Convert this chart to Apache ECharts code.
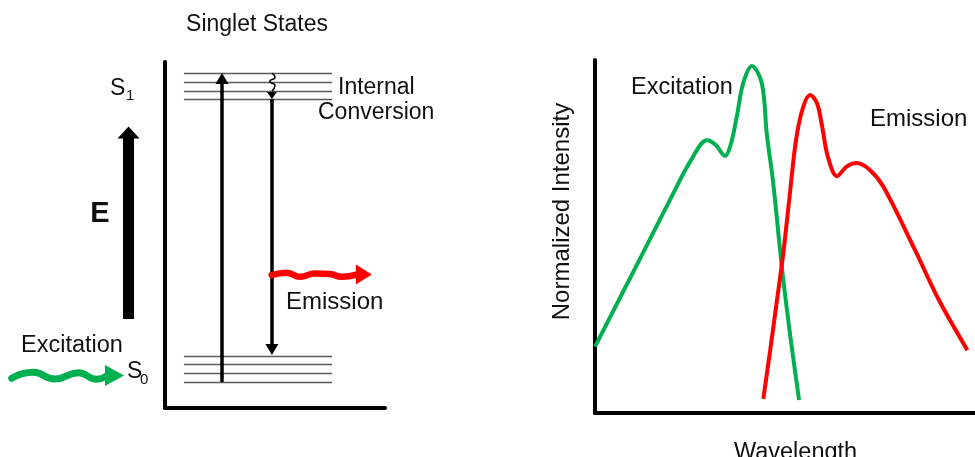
<!DOCTYPE html>
<html>
<head>
<meta charset="utf-8">
<script src="https://cdn.jsdelivr.net/npm/echarts@6/dist/echarts.min.js"></script>
<style>
  html, body { margin: 0; padding: 0; background: #ffffff; }
  #chart { width: 975px; height: 457px; }
</style>
</head>
<body>
<div id="chart"></div>
<script>
// ---- Jablonski diagram (relative energy 0-100, horizontal position 0-100) ----
const s1Levels = [96.8, 94.2, 91.6, 89.3];
const s0Levels = [15.0, 12.7, 10.1, 7.5];
const levelSpan = [8.6, 75.9];

// vertical transitions: [x, fromEnergy, toEnergy] and their heads
const absorption = [25.9, 7.5, 95.0];
const absorptionHead = [[25.9, 95.2]];
const emission = [48.6, 89.3, 17.5];
const emissionHead = [[48.6, 16.9]];

// internal conversion squiggle and its head
const internalConversion = [[48.6, 96.8], [50.0, 95.6], [47.6, 94.4], [50.0, 93.2], [48.6, 91.6]];
const internalHead = [[48.6, 90.3]];

// emitted photon (wavy arrow) leaving the emission line
const emittedPhoton = [[48.5, 38.4], [55.3, 39.1], [61.4, 37.9], [68.2, 38.9], [75.0, 38.7], [80.3, 37.9], [87.5, 38.6]];
const emittedHead = [[90.4, 38.6]];

// side panel: incoming photon and the energy axis arrow
const incomingPhoton = [[7.1, 8.6], [20.2, 10.3], [33.3, 8.4], [47.5, 10.2], [58.6, 8.3], [64.5, 9.2]];
const incomingHead = [[69.4, 9.4]];
const energyShaft = [[77.9, 25.7], [77.9, 78.6]];
const energyHead = [[77.9, 79.6]];

// ---- spectra (wavelength 0-100, normalized intensity 0-100) ----
const excitationSpectrum = [
  [0, 18.8], [12.7, 45.5], [20.6, 62.2], [25.2, 71.5], [29.5, 77.3],
  [31.8, 75.9], [34.2, 72.8], [35.6, 75.6], [37.3, 83.9], [39.0, 93.4], [41.3, 98.3],
  [43.9, 93.4], [45.2, 79.2], [46.9, 65.1], [48.7, 46.2], [49.4, 39.1], [51.3, 22.5], [53.7, 3.7]
];
const emissionSpectrum = [
  [44.3, 4.0], [46.1, 17.8], [47.9, 32.0], [49.5, 44.8], [51.1, 60.3], [52.9, 77.3],
  [54.7, 86.4], [56.6, 90.1], [58.4, 87.8], [59.7, 81.6], [61.3, 72.5], [63.7, 67.1],
  [66.2, 69.8], [68.9, 70.8], [72.4, 68.8], [75.9, 64.1], [84.2, 46.2], [90.5, 32.0], [98.0, 17.8]
];

const FONT = '"Liberation Sans", Arial, Helvetica, sans-serif';
const INK = '#111111';
const GREEN = '#00b050';
const RED = '#ff0000';

const seg = (pts) => ({ coords: pts });

const hiddenAxis = (gridIndex) => ({
  type: 'value', gridIndex, min: 0, max: 100, show: false
});
const frameAxis = (gridIndex, extra) => Object.assign({
  type: 'value', gridIndex, min: 0, max: 100,
  axisLine: { show: true, lineStyle: { color: '#000', width: 4 } },
  axisTick: { show: false }, axisLabel: { show: false }, splitLine: { show: false }
}, extra || {});

// triangular arrow head drawn as a scatter symbol; rotate: 0 up, 180 down, -90 right
const head = (name, data, gridIdx, color, size, rotate) => ({
  name, type: 'scatter', xAxisIndex: gridIdx, yAxisIndex: gridIdx, silent: true,
  symbol: 'triangle', symbolSize: size, symbolRotate: rotate,
  itemStyle: { color, opacity: 1 }, data, z: 5
});

const txt = (x, y, text, size, opts) => ({
  type: 'text', x, y, silent: true,
  style: Object.assign({
    text, fontSize: size, fontFamily: FONT, fill: INK,
    align: 'left', verticalAlign: 'middle'
  }, opts || {})
});

const chart = echarts.init(document.getElementById('chart'), null, { renderer: 'canvas' });

chart.setOption({
  animation: false,
  backgroundColor: '#ffffff',
  grid: [
    { left: 165, top: 62, width: 220, height: 346, outerBoundsMode: 'none' },   // Jablonski frame
    { left: 0, top: 62, width: 165, height: 346, outerBoundsMode: 'none' },     // energy axis side
    { left: 595, top: 60, width: 380, height: 353, outerBoundsMode: 'none' }    // spectra
  ],
  xAxis: [
    frameAxis(0),
    hiddenAxis(1),
    frameAxis(2, {
      name: 'Wavelength', nameLocation: 'middle', nameGap: 28,
      nameTextStyle: { fontSize: 23.5, fontFamily: FONT, color: INK, padding: [0, 0, 0, 21] }
    })
  ],
  yAxis: [
    frameAxis(0),
    hiddenAxis(1),
    frameAxis(2, {
      name: 'Normalized Intensity', nameLocation: 'middle', nameGap: 21, nameRotate: 90,
      nameTextStyle: { fontSize: 24, fontFamily: FONT, color: INK, padding: [0, 0, 0, 50] }
    })
  ],
  series: [
    {
      name: 'Vibrational levels', type: 'lines', coordinateSystem: 'cartesian2d',
      xAxisIndex: 0, yAxisIndex: 0, silent: true,
      lineStyle: { color: '#5a5a5a', width: 1.3, opacity: 1 },
      data: s1Levels.concat(s0Levels).map(e => seg([[levelSpan[0], e], [levelSpan[1], e]]))
    },
    {
      name: 'Transitions', type: 'lines', coordinateSystem: 'cartesian2d',
      xAxisIndex: 0, yAxisIndex: 0, silent: true,
      lineStyle: { color: '#000', width: 3.5, opacity: 1 },
      data: [
        seg([[absorption[0], absorption[1]], [absorption[0], absorption[2]]]),
        seg([[emission[0], emission[1]], [emission[0], emission[2]]])
      ]
    },
    head('Absorption head', absorptionHead, 0, '#000', [13, 11], 0),
    head('Emission head', emissionHead, 0, '#000', [13, 11], 180),
    {
      name: 'Internal conversion', type: 'line', xAxisIndex: 0, yAxisIndex: 0,
      smooth: 0.6, showSymbol: false, silent: true,
      lineStyle: { color: '#000', width: 1.5 },
      data: internalConversion
    },
    head('Internal conversion head', internalHead, 0, '#000', [10, 7], 180),
    {
      name: 'Emitted photon', type: 'line', xAxisIndex: 0, yAxisIndex: 0,
      smooth: 0.5, showSymbol: false, silent: true,
      lineStyle: { color: RED, width: 6.5, cap: 'round' },
      data: emittedPhoton
    },
    head('Emitted photon head', emittedHead, 0, RED, [20, 16], -90),
    {
      name: 'Incoming photon', type: 'line', xAxisIndex: 1, yAxisIndex: 1,
      smooth: 0.5, showSymbol: false, silent: true,
      lineStyle: { color: GREEN, width: 7, cap: 'round' },
      data: incomingPhoton
    },
    head('Incoming photon head', incomingHead, 1, GREEN, [21, 19], -90),
    {
      name: 'Energy axis', type: 'lines', coordinateSystem: 'cartesian2d',
      xAxisIndex: 1, yAxisIndex: 1, silent: true,
      lineStyle: { color: '#000', width: 11, opacity: 1 },
      data: [seg(energyShaft)]
    },
    head('Energy axis head', energyHead, 1, '#000', [22, 12], 0),
    {
      name: 'Excitation', type: 'line', xAxisIndex: 2, yAxisIndex: 2,
      smooth: 0.35, showSymbol: false, silent: true,
      lineStyle: { color: GREEN, width: 4 },
      data: excitationSpectrum
    },
    {
      name: 'Emission', type: 'line', xAxisIndex: 2, yAxisIndex: 2,
      smooth: 0.35, showSymbol: false, silent: true,
      lineStyle: { color: RED, width: 4 },
      data: emissionSpectrum
    }
  ],
  graphic: [
    txt(257, 25, 'Singlet States', 23, { align: 'center' }),
    txt(110, 89, 'S', 23),
    txt(126, 96, '1', 15),
    txt(127, 372, 'S', 23),
    txt(140, 380, '0', 15),
    txt(100, 214, 'E', 29, { align: 'center', fontWeight: 'bold' }),
    txt(338, 88, 'Internal', 23),
    txt(318, 113, 'Conversion', 23),
    txt(286, 302, 'Emission', 24),
    txt(21, 346, 'Excitation', 23.5),
    txt(631, 88, 'Excitation', 23.5),
    txt(870, 119, 'Emission', 24)
  ]
});
</script>
</body>
</html>
